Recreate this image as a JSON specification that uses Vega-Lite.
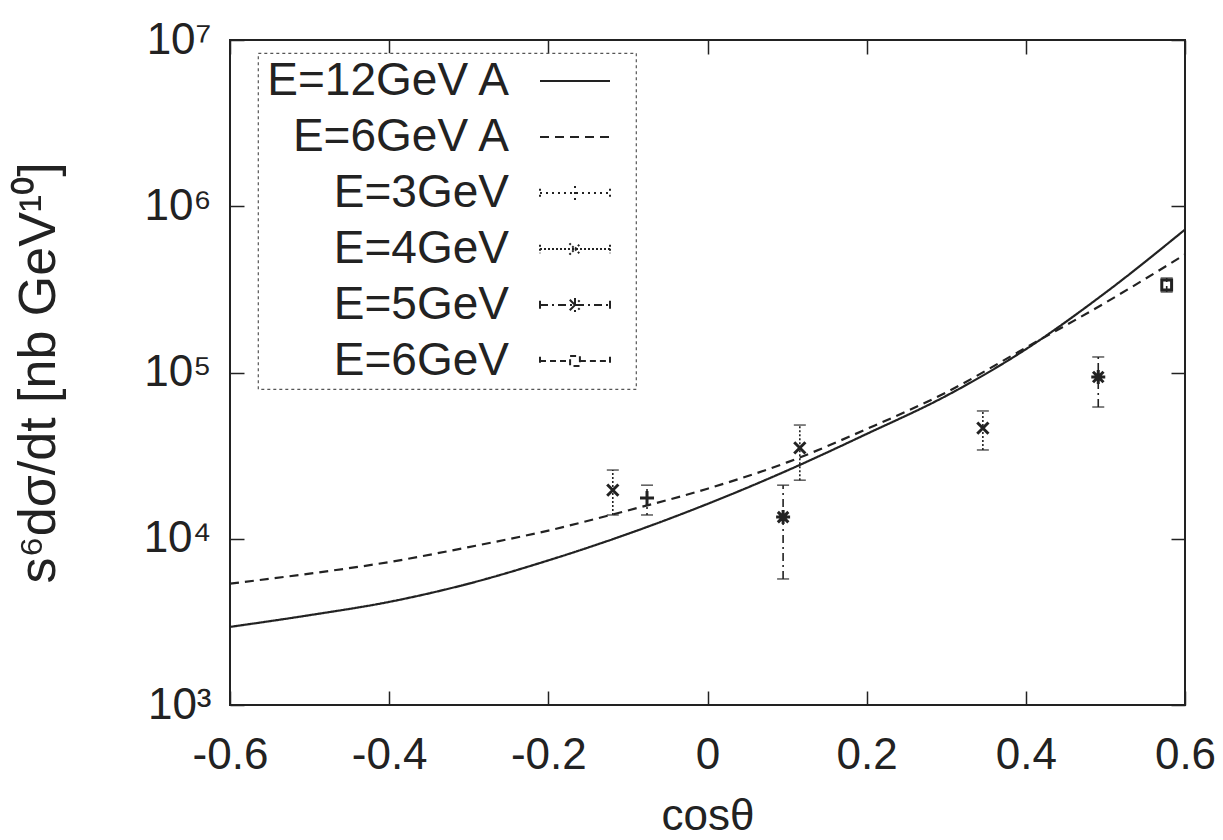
{
  "$schema": "https://vega.github.io/schema/vega-lite/v6.json",
  "width": 955,
  "height": 665,
  "autosize": {"type": "none"},
  "padding": {"left": 230, "top": 40, "right": 38, "bottom": 135},
  "background": "white",
  "config": {
    "view": {"stroke": "#222", "strokeWidth": 2},
    "font": "Liberation Sans",
    "axis": {
      "labelFont": "Liberation Sans", "labelFontSize": 44, "labelColor": "#222",
      "titleFont": "Liberation Sans", "titleFontSize": 44, "titleFontWeight": "normal", "titleColor": "#222",
      "grid": false, "domain": false, "tickColor": "#222", "tickWidth": 1.5, "tickSize": -14,
      "labelFlush": false, "labelOverlap": false
    },
    "legend": {"strokeColor": "#555", "strokeDash": [3, 3], "strokeWidth": 1.2, "fillColor": "white"}
  },
  "datasets": {
    "curves": [
      {"series": "E=12GeV A", "cos": -0.6, "val": 2950},
      {"series": "E=12GeV A", "cos": -0.5, "val": 3470},
      {"series": "E=12GeV A", "cos": -0.4, "val": 4170},
      {"series": "E=12GeV A", "cos": -0.3, "val": 5370},
      {"series": "E=12GeV A", "cos": -0.2, "val": 7410},
      {"series": "E=12GeV A", "cos": -0.1, "val": 10700},
      {"series": "E=12GeV A", "cos": 0.0, "val": 16200},
      {"series": "E=12GeV A", "cos": 0.1, "val": 25700},
      {"series": "E=12GeV A", "cos": 0.2, "val": 42700},
      {"series": "E=12GeV A", "cos": 0.3, "val": 72400},
      {"series": "E=12GeV A", "cos": 0.4, "val": 138000},
      {"series": "E=12GeV A", "cos": 0.5, "val": 302000},
      {"series": "E=12GeV A", "cos": 0.6, "val": 724000},
      {"series": "E=6GeV A", "cos": -0.6, "val": 5370},
      {"series": "E=6GeV A", "cos": -0.5, "val": 6170},
      {"series": "E=6GeV A", "cos": -0.4, "val": 7240},
      {"series": "E=6GeV A", "cos": -0.3, "val": 8910},
      {"series": "E=6GeV A", "cos": -0.2, "val": 11200},
      {"series": "E=6GeV A", "cos": -0.1, "val": 14800},
      {"series": "E=6GeV A", "cos": 0.0, "val": 20000},
      {"series": "E=6GeV A", "cos": 0.1, "val": 28800},
      {"series": "E=6GeV A", "cos": 0.2, "val": 45700},
      {"series": "E=6GeV A", "cos": 0.3, "val": 75900},
      {"series": "E=6GeV A", "cos": 0.4, "val": 141000},
      {"series": "E=6GeV A", "cos": 0.5, "val": 263000},
      {"series": "E=6GeV A", "cos": 0.6, "val": 513000}
    ],
    "points": [
      {"series": "E=4GeV", "cos": -0.119, "val": 19600, "lo": 13900, "hi": 25900},
      {"series": "E=3GeV", "cos": -0.076, "val": 17600, "lo": 13900, "hi": 21000},
      {"series": "E=5GeV", "cos": 0.095, "val": 13500, "lo": 5730, "hi": 21000},
      {"series": "E=4GeV", "cos": 0.116, "val": 35200, "lo": 22500, "hi": 48300},
      {"series": "E=4GeV", "cos": 0.346, "val": 46300, "lo": 34200, "hi": 58700},
      {"series": "E=5GeV", "cos": 0.491, "val": 94000, "lo": 62000, "hi": 124000},
      {"series": "E=6GeV", "cos": 0.577, "val": 336000, "lo": 305000, "hi": 370000}
    ]
  },
  "resolve": {"axis": {"x": "independent", "y": "independent"}},
  "layer": [
    {
      "data": {"name": "curves"},
      "mark": {"type": "line", "opacity": 0},
      "encoding": {
        "x": {"field": "cos", "type": "quantitative",
              "scale": {"domain": [-0.6, 0.6], "nice": false, "zero": false},
              "axis": {"orient": "top", "labels": false, "title": null, "values": [-0.6, -0.4, -0.2, 0, 0.2, 0.4, 0.6]}},
        "y": {"field": "val", "type": "quantitative",
              "scale": {"type": "log", "domain": [1000, 10000000], "nice": false},
              "axis": {"orient": "right", "labels": false, "title": null, "values": [1000, 10000, 100000, 1000000, 10000000]}}
      }
    },
    {
      "data": {"name": "curves"},
      "mark": {"type": "line", "color": "#222", "strokeWidth": 2.2, "interpolate": "monotone"},
      "encoding": {
        "x": {"field": "cos", "type": "quantitative",
              "axis": {"orient": "bottom", "title": "cosθ", "values": [-0.6, -0.4, -0.2, 0, 0.2, 0.4, 0.6],
                       "labelExpr": "toString(round(datum.value*10)/10)", "labelPadding": 42, "titlePadding": 17}},
        "y": {"field": "val", "type": "quantitative",
              "axis": {"orient": "left", "title": "s⁶dσ/dt [nb GeV¹⁰]", "titleFontSize": 52, "values": [1000, 10000, 100000, 1000000, 10000000],
                       "labelExpr": "'10' + ['³','⁴','⁵','⁶','⁷'][round(log(datum.value)/LN10)-3]",
                       "labelPadding": 33, "titlePadding": 78}},
        "strokeDash": {
          "field": "series", "type": "nominal",
          "scale": {"domain": ["E=12GeV A", "E=6GeV A", "E=3GeV", "E=4GeV", "E=5GeV", "E=6GeV"],
                    "range": [[1, 0], [9, 6], [2, 4], [2, 2], [8, 4, 2, 4], [6, 4]]},
          "legend": {
            "title": null,
            "orient": "none", "legendX": 28, "legendY": 13,
            "padding": 5, "rowPadding": 10,
            "labelFont": "Liberation Sans", "labelFontSize": 46, "labelColor": "#222",
            "labelAlign": "right", "labelOffset": -89, "symbolOffset": 289, "labelLimit": 400,
            "symbolSize": 196, "symbolStrokeWidth": 2, "symbolStrokeColor": "#222",
            "encode": {
              "symbols": {
                "update": {
                  "fill": {"value": "transparent"},
                  "shape": {"signal": "datum.value === 'E=3GeV' ? 'M-5,-0.6L-5,0.6M-5,0L5,0M5,-0.6L5,0.6M0,-1L0,1M7.3,0' : datum.value === 'E=4GeV' ? 'M-5,-0.6L-5,0.6M-5,0L5,0M5,-0.6L5,0.6M-0.8,-0.8L0.8,0.8M-0.8,0.8L0.8,-0.8M7.3,0' : datum.value === 'E=5GeV' ? 'M-5,-0.6L-5,0.6M-5,0L5,0M5,-0.6L5,0.6M0,-1L0,1M-0.75,-0.75L0.75,0.75M-0.75,0.75L0.75,-0.75M7.3,0' : datum.value === 'E=6GeV' ? 'M-5,-0.6L-5,0.6M-5,0L-0.7,0M0.7,0L5,0M5,-0.6L5,0.6M-0.7,-0.7L0.7,-0.7L0.7,0.7L-0.7,0.7ZM7.3,0' : 'M-5,0L5,0M7.3,0'"}
                }
              }
            }
          }
        }
      }
    },
    {
      "data": {"name": "points"},
      "mark": {"type": "rule", "color": "#222", "strokeWidth": 1.6},
      "encoding": {
        "x": {"field": "cos", "type": "quantitative", "axis": null},
        "y": {"field": "lo", "type": "quantitative", "axis": null},
        "y2": {"field": "hi"},
        "strokeDash": {"field": "series", "type": "nominal", "legend": null}
      }
    },
    {
      "data": {"name": "points"},
      "mark": {"type": "tick", "orient": "horizontal", "color": "#222", "size": 12, "thickness": 1.6},
      "encoding": {
        "x": {"field": "cos", "type": "quantitative", "axis": null},
        "y": {"field": "lo", "type": "quantitative", "axis": null}
      }
    },
    {
      "data": {"name": "points"},
      "mark": {"type": "tick", "orient": "horizontal", "color": "#222", "size": 12, "thickness": 1.6},
      "encoding": {
        "x": {"field": "cos", "type": "quantitative", "axis": null},
        "y": {"field": "hi", "type": "quantitative", "axis": null}
      }
    },
    {
      "data": {"name": "points"},
      "mark": {"type": "point", "filled": false, "color": "#222", "strokeWidth": 3, "size": 196, "opacity": 1},
      "encoding": {
        "x": {"field": "cos", "type": "quantitative", "axis": null},
        "y": {"field": "val", "type": "quantitative", "axis": null},
        "shape": {
          "field": "series", "type": "nominal", "legend": null,
          "scale": {"domain": ["E=3GeV", "E=4GeV", "E=5GeV", "E=6GeV"],
                    "range": ["M-1,0L1,0M0,-1L0,1", "M-0.8,-0.8L0.8,0.8M-0.8,0.8L0.8,-0.8",
                              "M-1,0L1,0M0,-1L0,1M-0.75,-0.75L0.75,0.75M-0.75,0.75L0.75,-0.75",
                              "M-0.7,-0.7L0.7,-0.7L0.7,0.7L-0.7,0.7Z"]}
        }
      }
    }
  ]
}
